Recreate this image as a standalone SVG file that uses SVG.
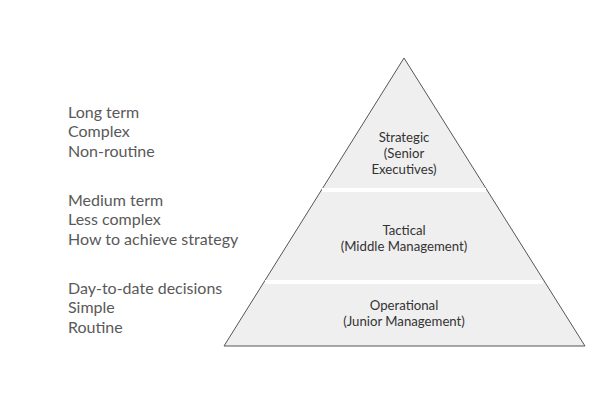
<svg xmlns="http://www.w3.org/2000/svg" width="608" height="405" viewBox="0 0 608 405">
<style>
.side{font-family:Lato,"Open Sans",sans-serif;font-size:16px;fill:#595959}
.lvl{font-family:Lato,"Open Sans",sans-serif;font-size:13.2px;fill:#333;text-anchor:middle}
.gap{stroke:#fff;stroke-width:4}
</style>
<rect width="608" height="405" fill="#fff"/>
<g id="pyramid">
<polygon points="404,58 585,346 224,346" fill="#efefef" stroke="#555" stroke-width="1"/>
<line class="gap" x1="322" y1="190" x2="486" y2="190"/>
<line class="gap" x1="265" y1="282" x2="543" y2="282"/>
</g>
<g id="strategic">
<text class="lvl" x="404" y="142">Strategic</text>
<text class="lvl" x="404" y="158">(Senior</text>
<text class="lvl" x="404" y="174">Executives)</text>
</g>
<g id="tactical">
<text class="lvl" x="404" y="235">Tactical</text>
<text class="lvl" x="404" y="251">(Middle Management)</text>
</g>
<g id="operational">
<text class="lvl" x="404" y="310">Operational</text>
<text class="lvl" x="404" y="326">(Junior Management)</text>
</g>
<g id="desc-strategic">
<text class="side" x="68" y="118">Long term</text>
<text class="side" x="68" y="137">Complex</text>
<text class="side" x="68" y="157">Non-routine</text>
</g>
<g id="desc-tactical">
<text class="side" x="68" y="206">Medium term</text>
<text class="side" x="68" y="225">Less complex</text>
<text class="side" x="68" y="245">How to achieve strategy</text>
</g>
<g id="desc-operational">
<text class="side" x="68" y="294">Day-to-date decisions</text>
<text class="side" x="68" y="313">Simple</text>
<text class="side" x="68" y="333">Routine</text>
</g>
<g id="connectors"></g>
</svg>
